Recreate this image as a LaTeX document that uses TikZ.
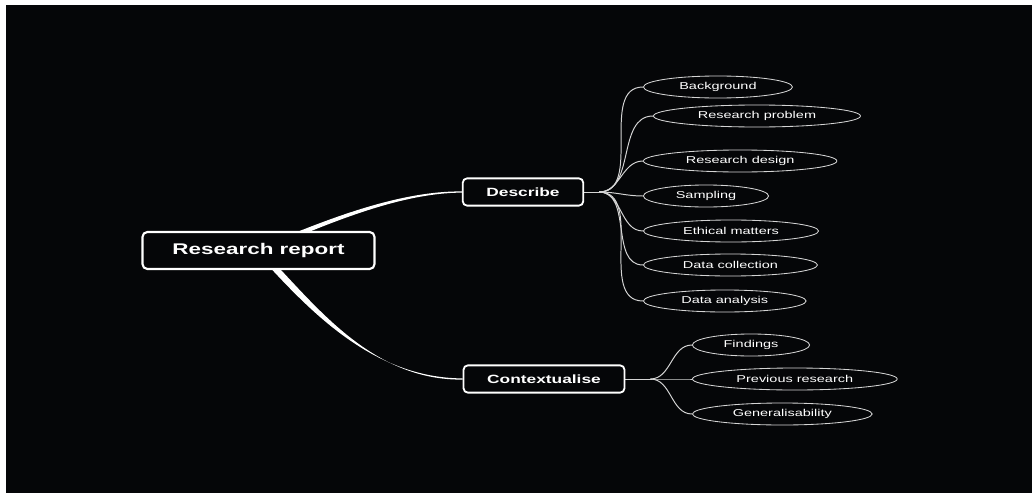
\documentclass[tikz,border=0pt]{standalone}
\usepackage{fontspec}
\setmainfont[FakeStretch=1.45]{Liberation Sans}
\usetikzlibrary{shapes.geometric,calc,backgrounds}
\definecolor{mmbg}{RGB}{5,6,8}
\definecolor{mmline}{RGB}{212,212,212}
\tikzset{
  topic/.style={
    draw=white, line width=1.5pt, fill=mmbg, text=white, rounded corners=3.5pt,
    font=\fontsize{11}{13}\selectfont\bfseries, inner xsep=0.75cm,
    minimum height=0.925cm
  },
  sub/.style={
    draw=white, line width=1.3pt, fill=mmbg, text=white, rounded corners=3pt,
    font=\fontsize{8.5}{10}\selectfont\bfseries, inner xsep=0.59cm,
    minimum height=0.68cm
  },
  leaf/.style={
    ellipse, draw=mmline, line width=0.6pt, text=white, anchor=west,
    font=\fontsize{7.1}{8.5}\selectfont, inner xsep=10pt, inner ysep=1pt,
    minimum height=0.55cm
  },
  link/.style={draw=mmline, line width=0.7pt},
  trunk/.style={fill=white}
}

\begin{document}
\begin{tikzpicture}[x=0.025cm, y=-0.025cm]
  \useasboundingbox (0,0) rectangle (1032,493);
  \node[topic] (root) at (258.5,250.5) {Research report};
  \node[sub] (desc) at (523,192) {Describe};
  \node[sub] (ctx) at (544,379) {Contextualise};
  \coordinate (dj) at ($(desc.east)+(15,0)$);
  \coordinate (cj) at ($(ctx.east)+(25,0)$);
  \node[leaf] (bg) at (643,87) {Background};
  \node[leaf] (rp) at (653,116) {Research problem};
  \node[leaf] (rd) at (643,161) {Research design};
  \node[leaf] (sa) at (643,196) {Sampling};
  \node[leaf] (em) at (643,231) {Ethical matters};
  \node[leaf] (dc) at (643,265) {Data collection};
  \node[leaf] (da) at (643,301) {Data analysis};
  \node[leaf] (fi) at (692,345) {Findings};
  \node[leaf] (pr) at (692,379) {Previous research};
  \node[leaf] (ge) at (692,414) {Generalisability};
  \begin{scope}[on background layer]
    \fill[white] (0,0) rectangle (1032,493);
    \fill[mmbg] (6,5) rectangle (1032,493);
    \fill[trunk] ($(root.center)+(0,-2.5)$) .. controls (330,217.5) and (400,191) .. ($(desc.west)+(0,-0.6)$)
      -- ($(desc.west)+(0,0.6)$) .. controls (400,193) and (330,222.5) .. ($(root.center)+(0,2.5)$) -- cycle;
    \fill[trunk] ($(root.center)+(-4,0)$) .. controls (306,307) and (370,378) .. ($(ctx.west)+(0,-0.6)$)
      -- ($(ctx.west)+(0,0.6)$) .. controls (370,380.5) and (314,303) .. ($(root.center)+(4,0)$) -- cycle;
    \draw[link] (desc) -- (dj);
    \foreach \n in {bg,rp,rd,sa,em,dc,da}
      \draw[link] (dj) to[out=0, in=180] (\n.west);
    \draw[link] (ctx) -- (cj);
    \foreach \n in {fi,pr,ge}
      \draw[link] (cj) to[out=0, in=180] (\n.west);
  \end{scope}
\end{tikzpicture}
\end{document}
